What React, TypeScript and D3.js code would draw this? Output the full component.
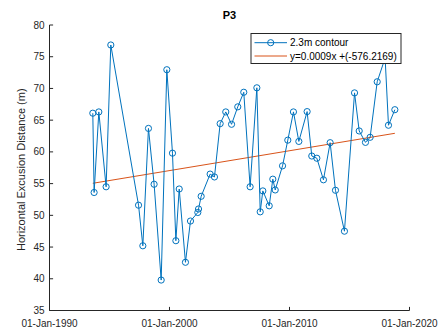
import React from "react";
import * as d3 from "d3";

const dates: string[] = [
  "1993-08-11", "1993-09-20", "1994-02-10", "1994-09-20", "1995-02-10",
  "1997-06-03", "1997-10-12", "1998-04-01", "1998-09-20", "1999-04-23",
  "1999-10-12", "2000-04-01", "2000-07-13", "2000-10-23", "2001-05-01",
  "2001-10-01", "2002-05-12", "2002-06-03", "2002-08-22", "2003-05-22",
  "2003-10-01", "2004-03-22", "2004-09-09", "2005-03-04", "2005-09-09",
  "2006-03-11", "2006-09-20", "2007-04-13", "2007-07-24", "2007-10-12",
  "2008-04-23", "2008-08-11", "2008-10-23", "2009-06-03", "2009-11-10",
  "2010-05-01", "2010-10-12", "2011-06-21", "2011-11-10", "2012-04-12",
  "2012-10-30", "2013-05-22", "2013-10-31", "2014-07-31", "2015-06-03",
  "2015-10-23", "2016-05-01", "2016-09-20", "2017-04-23", "2017-12-20",
  "2018-04-01", "2018-10-12",
];
const values: number[] = [
  66.1, 53.6, 66.3, 54.5, 76.85,
  51.6, 45.2, 63.7, 54.9, 39.8,
  72.95, 59.8, 46.0, 54.15, 42.6,
  49.1, 50.45, 51.0, 53.0, 56.5,
  56.05, 64.45, 66.3, 64.35, 67.1,
  69.4, 54.5, 70.1, 50.55, 53.85,
  51.5, 55.7, 54.0, 57.8, 61.85,
  66.3, 61.65, 66.35, 59.35, 59.0,
  55.6, 61.45, 53.95, 47.5, 69.3,
  63.3, 61.5, 62.3, 71.05, 74.8,
  64.2, 66.65,
];
const trendValues: number[] = [55.05, 62.93];
const xTickYears: number[] = [1990, 2000, 2010, 2020];
const yTicks: number[] = [35, 40, 45, 50, 55, 60, 65, 70, 75, 80];
const seriesLabels: string[] = ["2.3m contour", "y=0.0009x +(-576.2169)"];
const title = "P3";
const yLabel = "Horizontal Excusion Distance (m)";

const W = 442;
const H = 334;
const left = 49.5;
const right = 409.5;
const top = 25;
const bottom = 310.5;
const blue = "#0072BD";
const orange = "#D95319";
const axisColor = "#262626";
const font = "'Liberation Sans', Arial, Helvetica, sans-serif";
const months = ["Jan", "Feb", "Mar", "Apr", "May", "Jun", "Jul", "Aug", "Sep", "Oct", "Nov", "Dec"];

export default function App() {
  const parse = (s: string) => new Date(s + "T00:00:00Z");
  const data = dates.map((d, i) => ({ date: parse(d), value: values[i] }));
  const x = d3
    .scaleUtc()
    .domain([new Date(Date.UTC(1990, 0, 1)), new Date(Date.UTC(2020, 0, 1))])
    .range([left, right]);
  const y = d3.scaleLinear().domain([35, 80]).range([bottom, top]);
  const line = d3
    .line<{ date: Date; value: number }>()
    .x((d) => x(d.date))
    .y((d) => y(d.value));
  const trend = [
    { date: data[0].date, value: trendValues[0] },
    { date: data[data.length - 1].date, value: trendValues[1] },
  ];
  const fmt = (d: Date) =>
    `${String(d.getUTCDate()).padStart(2, "0")}-${months[d.getUTCMonth()]}-${d.getUTCFullYear()}`;
  const xTicks = xTickYears.map((yr) => new Date(Date.UTC(yr, 0, 1)));

  const lg = { x: 251, y: 33.5, w: 150, h: 30 };

  return (
    <svg width={W} height={H} style={{ position: "absolute", left: 0, top: 0, background: "#fff" }}>
      <rect x={0} y={0} width={W} height={H} fill="#fff" />
      <path d={line(trend) || ""} fill="none" stroke={orange} strokeWidth={1} />
      <path d={line(data) || ""} fill="none" stroke={blue} strokeWidth={1} />
      {data.map((d, i) => (
        <circle key={i} cx={x(d.date)} cy={y(d.value)} r={3.1} fill="none" stroke={blue} strokeWidth={1} />
      ))}
      {/* axes */}
      <line x1={left} x2={right} y1={bottom} y2={bottom} stroke={axisColor} strokeWidth={1} />
      <line x1={left} x2={left} y1={top} y2={bottom} stroke={axisColor} strokeWidth={1} />
      {xTicks.map((t, i) => (
        <g key={i}>
          <line x1={x(t)} x2={x(t)} y1={bottom} y2={bottom - 3.6} stroke={axisColor} strokeWidth={1} />
          <text x={x(t)} y={326.5} textAnchor="middle" fontFamily={font} fontSize={10} fill={axisColor}>
            {fmt(t)}
          </text>
        </g>
      ))}
      {yTicks.map((t, i) => (
        <g key={i}>
          <line x1={left} x2={left + 3.6} y1={y(t)} y2={y(t)} stroke={axisColor} strokeWidth={1} />
          <text x={left - 5} y={y(t) + 3.6} textAnchor="end" fontFamily={font} fontSize={10} fill={axisColor}>
            {t}
          </text>
        </g>
      ))}
      <text
        transform={`translate(${22},${(top + bottom) / 2 + 2}) rotate(-90)`}
        textAnchor="middle"
        dominantBaseline="middle"
        fontFamily={font}
        fontSize={11}
        fill={axisColor}
      >
        {yLabel}
      </text>
      <text x={(left + right) / 2} y={19} textAnchor="middle" fontFamily={font} fontSize={11} fontWeight="bold" fill="#000">
        {title}
      </text>
      {/* legend */}
      <rect x={lg.x} y={lg.y} width={lg.w} height={lg.h} fill="#fff" stroke={axisColor} strokeWidth={1} />
      <line x1={254.5} x2={287} y1={42.7} y2={42.7} stroke={blue} strokeWidth={1} />
      <circle cx={270.7} cy={42.7} r={3.1} fill="none" stroke={blue} strokeWidth={1} />
      <line x1={254.5} x2={287} y1={56} y2={56} stroke={orange} strokeWidth={1} />
      <text x={290} y={46.3} fontFamily={font} fontSize={10} fill="#000">
        {seriesLabels[0]}
      </text>
      <text x={290} y={59.6} fontFamily={font} fontSize={10} fill="#000">
        {seriesLabels[1]}
      </text>
    </svg>
  );
}
